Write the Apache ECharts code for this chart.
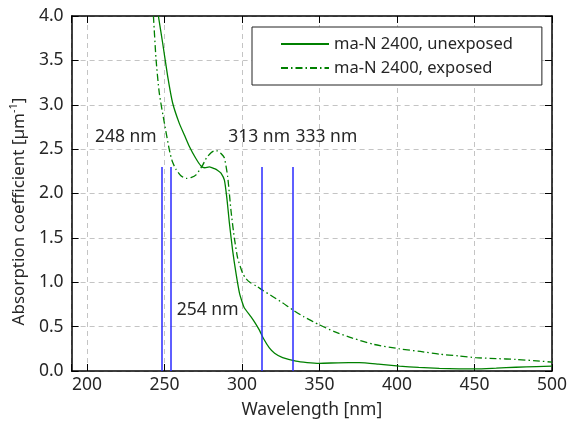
<!DOCTYPE html>
<html lang="en">

<head>
  <meta charset="UTF-8">
  <title>Absorption coefficient</title>
  <script src="https://cdn.jsdelivr.net/npm/echarts@6.0.0/dist/echarts.min.js"></script>
  <style>
    html, body {
      margin: 0;
      background: #fff;
    }

    #chart {
      width: 570px;
      height: 432px;
    }
  </style>
</head>

<body>
  <div id="chart"></div>

  <script>
    // [wavelength nm, absorption coefficient 1/um]
    const unexposed = [
      [246.0, 4.00], [248.8, 3.69], [252.0, 3.32], [255.2, 3.02], [259.5, 2.79], [263.0, 2.65],
      [266.0, 2.53], [270.0, 2.40], [273.5, 2.31], [276.0, 2.29], [278.9, 2.30], [282.2, 2.28],
      [284.3, 2.26], [286.4, 2.23], [288.6, 2.15], [290.3, 1.93], [291.8, 1.67], [293.9, 1.36],
      [296.1, 1.10], [298.3, 0.88], [300.0, 0.78], [301.5, 0.71], [305.8, 0.61], [308.5, 0.54],
      [311.2, 0.46], [314.0, 0.36], [317.6, 0.26], [321.0, 0.20], [326.2, 0.15], [334.8, 0.11],
      [342.0, 0.095], [349.9, 0.087], [362.0, 0.092], [375.7, 0.094], [388.0, 0.078], [401.5, 0.056],
      [414.0, 0.040], [427.3, 0.030], [440.0, 0.024], [450.9, 0.023], [464.0, 0.032], [476.7, 0.042],
      [490.0, 0.050], [500.0, 0.056]
    ]
    const exposed = [
      [242.8, 4.00], [244.5, 3.51], [246.6, 3.13], [249.9, 2.79], [253.1, 2.49], [255.0, 2.36],
      [257.4, 2.27], [260.5, 2.20], [263.9, 2.17], [267.0, 2.18], [270.3, 2.21], [274.6, 2.32],
      [277.0, 2.40], [280.0, 2.46], [282.0, 2.48], [284.3, 2.48], [286.4, 2.45], [288.6, 2.40],
      [290.7, 2.19], [292.9, 1.80], [295.0, 1.50], [297.2, 1.27], [300.4, 1.10], [302.6, 1.04],
      [305.0, 1.00], [309.0, 0.96], [313.3, 0.91], [319.7, 0.84], [326.0, 0.77], [332.6, 0.69],
      [340.0, 0.61], [349.9, 0.52], [360.0, 0.44], [371.3, 0.37], [385.0, 0.30], [401.5, 0.25],
      [415.0, 0.22], [427.3, 0.19], [440.0, 0.17], [450.9, 0.15], [464.0, 0.14], [476.7, 0.13],
      [490.0, 0.115], [500.0, 0.10]
    ]
    const laserLines = [248, 254, 313, 333]
    const laserHeight = 2.3
    const seriesNames = ['ma-N 2400, unexposed', 'ma-N 2400, exposed']

    const font = 'Noto Sans'
    const txt = '#262626'
    const fs = 17.5

    // where the "xxx nm" texts sit, in data coords
    const labelAt = {
      248: [225, 2.64],
      254: [277.8, 0.69],
      313: [311, 2.64],
      333: [354.4, 2.64]
    }

    const myChart = echarts.init(document.getElementById('chart'), null, { renderer: 'canvas' })

    const axisBase = {
      type: 'value',
      show: true,
      axisLine: { show: true, onZero: false, lineStyle: { color: '#000', width: 1.5 } },
      axisTick: { show: true, inside: true, length: 7, lineStyle: { color: '#000', width: 1 } },
      minorTick: { show: false }
    }

    const option = {
      animation: false,
      backgroundColor: '#fff',
      textStyle: { fontFamily: font, color: txt },
      grid: { left: 71.5, right: 17, top: 16, bottom: 61, containLabel: false },
      legend: {
        data: seriesNames,
        orient: 'vertical',
        left: 252,
        top: 27,
        padding: [8, 29, 8, 28],
        itemWidth: 48,
        itemHeight: 14,
        itemGap: 6,
        borderColor: '#222',
        borderWidth: 1,
        backgroundColor: '#fff',
        itemStyle: { color: 'transparent', borderWidth: 0, opacity: 0 },
        textStyle: { fontFamily: font, fontSize: 16.5, color: txt, lineHeight: 18 }
      },
      xAxis: [
        Object.assign({}, axisBase, {
          min: 190,
          max: 500,
          position: 'bottom',
          name: 'Wavelength [nm]',
          nameLocation: 'middle',
          nameGap: 30,
          nameTextStyle: { fontFamily: font, fontSize: fs, color: txt },
          axisLabel: {
            fontFamily: font, fontSize: fs, color: txt, margin: 5,
            formatter: v => (v % 50 === 0 ? String(v) : '')
          },
          splitLine: { show: true, lineStyle: { color: '#c4c4c4', type: [5, 4], width: 1 } }
        }),
        Object.assign({}, axisBase, {
          min: 190,
          max: 500,
          position: 'top',
          axisLabel: { show: false },
          splitLine: { show: false }
        })
      ],
      yAxis: [
        Object.assign({}, axisBase, {
          min: 0,
          max: 4,
          interval: 0.5,
          position: 'left',
          name: '{a|Absorption coefficient [µm}{s|-1}{a|]}',
          nameLocation: 'middle',
          nameGap: 38,
          nameTextStyle: {
            padding: [0, 36, 0, 0],
            rich: {
              a: { fontFamily: font, fontSize: 17, color: txt, lineHeight: 20, verticalAlign: 'bottom' },
              s: { fontFamily: font, fontSize: 11, color: txt, lineHeight: 20, verticalAlign: 'top' }
            }
          },
          axisLabel: {
            fontFamily: font, fontSize: fs, color: txt, margin: 8,
            formatter: v => v.toFixed(1)
          },
          splitLine: { show: true, lineStyle: { color: '#c4c4c4', type: [5, 4], width: 1 } }
        }),
        Object.assign({}, axisBase, {
          min: 0,
          max: 4,
          interval: 0.5,
          position: 'right',
          axisLabel: { show: false },
          splitLine: { show: false }
        })
      ],
      series: [
        {
          name: seriesNames[0],
          type: 'line',
          data: unexposed,
          symbol: 'none',
          smooth: 0.2,
          clip: true,
          lineStyle: { color: '#008000', width: 1.3, type: 'solid' },
          itemStyle: { color: '#008000' },
          z: 3
        },
        {
          name: seriesNames[1],
          type: 'line',
          data: exposed,
          symbol: 'none',
          smooth: 0.2,
          clip: true,
          lineStyle: { color: '#008000', width: 1.3, type: [7, 3, 1.5, 3] },
          itemStyle: { color: '#008000' },
          z: 3
        },
        {
          // laser / lamp lines and their captions
          name: 'lines',
          type: 'line',
          data: [],
          silent: true,
          markLine: {
            silent: true,
            symbol: 'none',
            animation: false,
            label: { show: false },
            lineStyle: { color: '#2a2aff', width: 1.5, type: 'solid' },
            data: laserLines.map(w => [{ coord: [w, 0] }, { coord: [w, laserHeight] }])
          },
          markPoint: {
            silent: true,
            symbol: 'circle',
            symbolSize: 0,
            animation: false,
            label: {
              show: true,
              position: 'inside',
              fontFamily: font,
              fontSize: fs,
              color: txt,
              formatter: p => p.name
            },
            data: laserLines.map(w => ({ name: `${w} nm`, coord: labelAt[w] }))
          },
          z: 2
        },
        {
          // keeps the top / right frame axes alive
          name: 'frame',
          type: 'line',
          xAxisIndex: 1,
          yAxisIndex: 1,
          data: [],
          silent: true
        }
      ]
    }
    myChart.setOption(option)
  </script>
</body>

</html>
